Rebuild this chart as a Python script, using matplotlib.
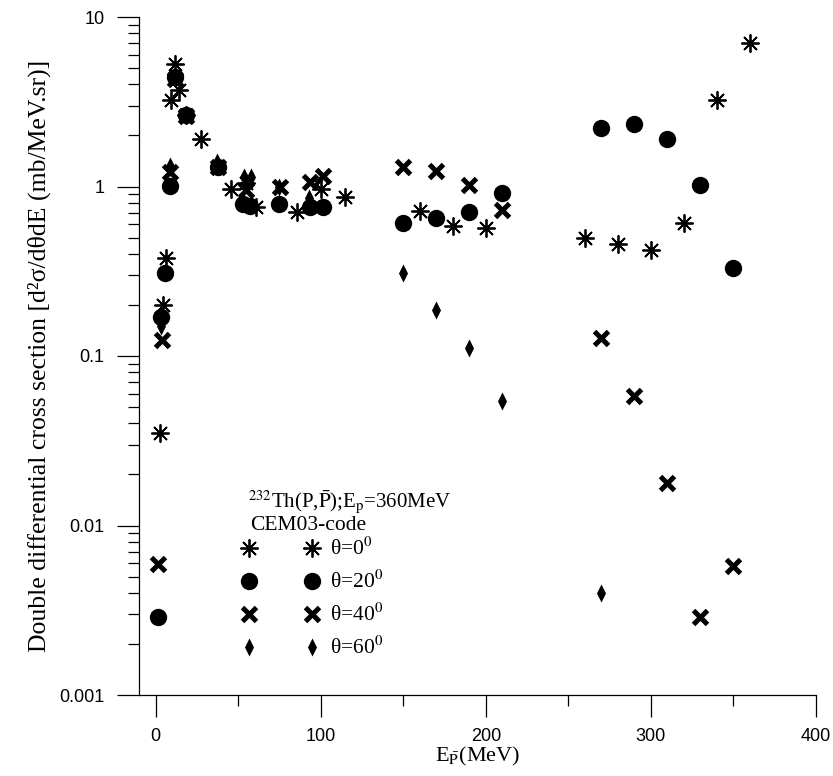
import matplotlib
matplotlib.use('Agg')
import matplotlib.pyplot as plt
from matplotlib.ticker import FixedLocator, FixedFormatter, NullFormatter
from matplotlib.lines import Line2D

plt.rcParams['font.family'] = ['Liberation Serif', 'DejaVu Serif']
plt.rcParams['mathtext.fontset'] = 'stix'

# theta = 0 deg (asterisks)
e_0 = [2.8, 4.4, 6.5, 9.5, 11.5, 14.5, 18.2, 27.7, 45.9, 55, 61, 85.9, 100.4, 114.5,
       160, 180, 200, 260, 280, 300, 320, 340, 360]
s_0 = [0.035, 0.20, 0.38, 3.26, 5.27, 3.70, 2.63, 1.91, 0.97, 1.05, 0.754, 0.705, 0.97, 0.864,
       0.714, 0.588, 0.567, 0.494, 0.458, 0.422, 0.607, 3.26, 7.0]

# theta = 20 deg (circles)
e_20 = [1.8, 3.5, 5.5, 8.5, 11.5, 18.2, 37.8, 53, 57.4, 75, 93.3, 101.6,
        150, 170, 190, 210, 270, 290, 310, 330, 350]
s_20 = [0.0029, 0.169, 0.31, 1.01, 4.40, 2.63, 1.30, 0.79, 0.772, 0.79, 0.754, 0.754,
        0.61, 0.649, 0.705, 0.91, 2.21, 2.33, 1.91, 1.02, 0.33]

# theta = 40 deg (crosses)
e_40 = [1.8, 4.0, 8.5, 11.5, 18.2, 37.8, 55, 75.2, 93.5, 101.5,
        150, 170, 190, 210, 270, 290, 310, 330, 350]
s_40 = [0.0059, 0.124, 1.22, 4.3, 2.6, 1.3, 0.95, 1.0, 1.06, 1.16,
        1.30, 1.24, 1.02, 0.728, 0.127, 0.058, 0.0177, 0.0029, 0.0058]

# theta = 60 deg (diamonds)
e_60 = [3.5, 5.5, 8.5, 11.5, 18.2, 37.4, 53.3, 58, 75, 93,
        150, 170, 190, 210, 270]
s_60 = [0.15, 0.31, 1.33, 4.5, 2.63, 1.39, 1.135, 1.135, 1.0, 0.86,
        0.307, 0.186, 0.112, 0.0542, 0.004]

labels = [r'θ=0$^0$', r'θ=20$^0$', r'θ=40$^0$', r'θ=60$^0$']
y_ticks = [0.001, 0.01, 0.1, 1, 10]
y_tick_labels = ['0.001', '0.01', '0.1', '1', '10']
x_ticks = [0, 100, 200, 300, 400]

ast = (8, 2, 0)
thin_d = [(0, 1), (0.5, 0), (0, -1), (-0.5, 0), (0, 1)]
styles = [
    dict(marker=ast, ms=13, mew=1.3, mfc='none'),
    dict(marker='o', ms=12.5, mew=0),
    dict(marker='x', ms=10, mew=3.6),
    dict(marker=thin_d, ms=13, mew=0),
]

fig = plt.figure(figsize=(8.33, 7.76), dpi=100)
ax = fig.add_axes([139/833, 1 - 695/776, (816 - 139)/833, (695 - 17)/776])

series = [(e_0, s_0), (e_20, s_20), (e_40, s_40), (e_60, s_60)]
for (e, s), st in zip(series, styles):
    ax.plot(e, s, ls='none', color='black', mec='black', clip_on=False, **st)

ax.set_yscale('log')
ax.set_ylim(0.001, 10)
ax.set_xlim(-10, 400)

ax.yaxis.set_major_locator(FixedLocator(y_ticks))
ax.yaxis.set_major_formatter(FixedFormatter(y_tick_labels))
ax.yaxis.set_minor_formatter(NullFormatter())
ax.xaxis.set_major_locator(FixedLocator(x_ticks))
ax.xaxis.set_minor_locator(FixedLocator([50, 150, 250, 350]))

ax.tick_params(which='major', direction='out', length=16, width=0.9, labelsize=13)
ax.tick_params(which='minor', direction='out', length=8, width=0.9)
ax.tick_params(axis='x', which='major', pad=8)
ax.tick_params(axis='y', which='major', pad=9)
for lab in ax.get_xticklabels() + ax.get_yticklabels():
    lab.set_fontfamily('Liberation Sans')

ax.spines['top'].set_visible(False)
ax.spines['right'].set_visible(False)
ax.spines['left'].set_linewidth(0.9)
ax.spines['bottom'].set_linewidth(0.9)

ax.set_xlabel(r'E$_{\bar{\mathrm{P}}}$(MeV)', fontsize=16, labelpad=0)
ax.set_ylabel('Double differential cross section [d²σ/dθdE (mb/MeV.sr)]', fontsize=18.5, labelpad=6)

fig.text(248/833, 1 - 502/776, r'$^{232}$Th(P,$\bar{\mathrm{P}}$);E$_{\mathrm{p}}$=360MeV',
         fontsize=15, va='center', ha='left')
fig.text(250/833, 1 - 525/776, 'CEM03-code', fontsize=15.5, va='center', ha='left')

handles = [Line2D([], [], ls='none', color='black', mec='black', **st) for st in styles]
ax.legend(handles, labels, numpoints=2, frameon=False, fontsize=15.5,
          loc='upper left', bbox_to_anchor=(243/833, 1 - 538/776),
          bbox_transform=fig.transFigure, borderaxespad=0, borderpad=0,
          handlelength=3.5, handletextpad=0.55, labelspacing=0.5)

fig.savefig('out.png', dpi=100)
